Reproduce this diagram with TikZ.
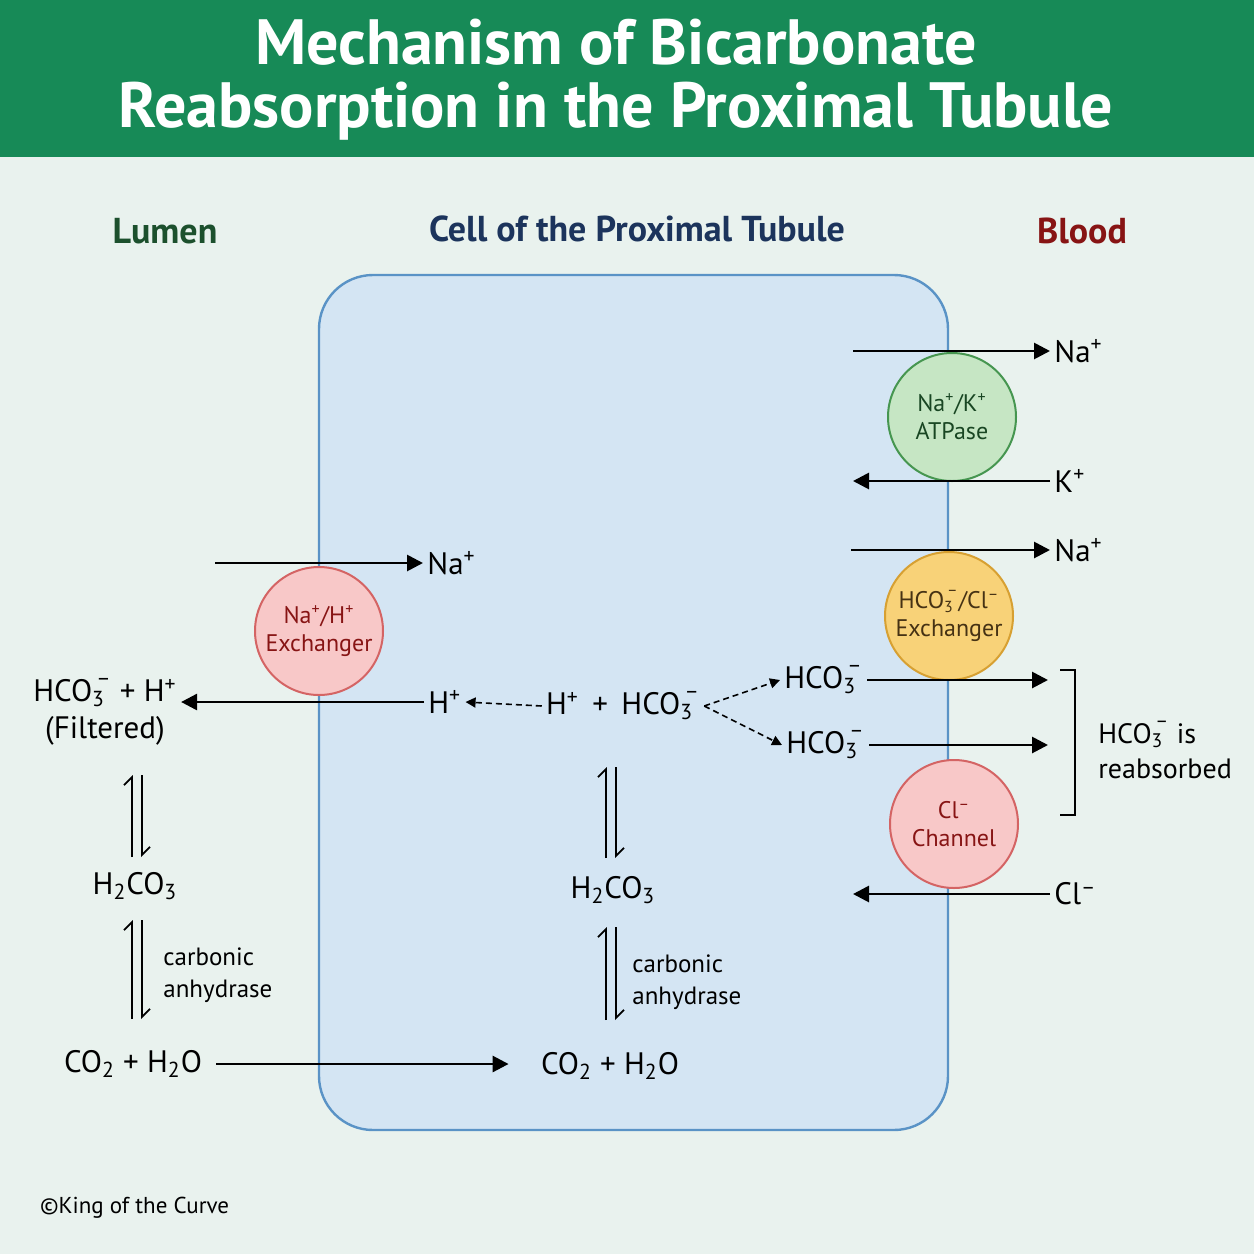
\documentclass[tikz,border=0pt]{standalone}
\usepackage{fontspec}
\setmainfont{PT Sans}
\usepackage{tikz}
\usetikzlibrary{arrows.meta,positioning}
\definecolor{titlegreen}{RGB}{23,138,87}
\definecolor{pagebg}{RGB}{233,242,238}
\definecolor{cellfill}{RGB}{212,229,243}
\definecolor{celledge}{RGB}{90,147,198}
\definecolor{lumengreen}{RGB}{28,80,45}
\definecolor{cellnavy}{RGB}{28,52,92}
\definecolor{bloodred}{RGB}{135,20,20}
\definecolor{pinkfill}{RGB}{248,200,200}
\definecolor{pinkedge}{RGB}{212,100,100}
\definecolor{greenfill}{RGB}{198,230,196}
\definecolor{greenedge}{RGB}{70,150,80}
\definecolor{darkgreen}{RGB}{25,70,35}
\definecolor{goldfill}{RGB}{248,210,120}
\definecolor{goldedge}{RGB}{215,160,50}
\definecolor{darkbrown}{RGB}{70,50,20}
\newcommand{\bicarb}{HCO\textsubscript{3}\kern-0.28em\raisebox{0.35ex}{\textsuperscript{--}}}

\begin{document}
\begin{tikzpicture}[x=0.5pt, y=-0.5pt,
    pore/.style={circle, draw, line width=1pt, minimum size=64pt, inner sep=0pt, align=center, font=\fontsize{12}{14}\selectfont},
    exch/.style={pore, draw=pinkedge, fill=pinkfill, text=bloodred},
    pump/.style={pore, draw=greenedge, fill=greenfill, text=darkgreen},
    anion/.style={pore, draw=goldedge, fill=goldfill, text=darkbrown},
    ion/.style={font=\fontsize{15.5}{18}\selectfont, inner sep=2pt},
    note/.style={font=\fontsize{12.5}{16}\selectfont, align=left, inner sep=0pt},
    side/.style={font=\bfseries\fontsize{18}{22}\selectfont},
    flux/.style={line width=1.4pt, -{Triangle[length=8pt,width=8pt]}},
    dissoc/.style={line width=0.8pt, dash pattern=on 3pt off 2pt, -{Triangle[length=5pt,width=5pt]}},
    harp/.style={line width=0.9pt, -{Straight Barb[left,length=4pt,width=8pt]}}
]
\useasboundingbox (0,0) rectangle (1254,1254);
\fill[pagebg] (0,0) rectangle (1254,1254);

% Title band
\fill[titlegreen] (0,0) rectangle (1254,157);
\node[text=white, align=center, font=\bfseries\fontsize{32}{31.5}\selectfont] (title) at (616,80)
    {Mechanism of Bicarbonate\\Reabsorption in the Proximal Tubule};

% Compartments
\node[side, text=lumengreen] (lumen) at (165,231) {Lumen};
\node[side, text=cellnavy] (cellhead) at (637,229) {Cell of the Proximal Tubule};
\node[side, text=bloodred] (blood) at (1082,231) {Blood};
\draw[celledge, fill=cellfill, line width=1.2pt, rounded corners=27pt] (319,275) rectangle (948,1130);

% Transporters
\node[exch] (nhe) at (319,631) {Na\textsuperscript{+}/H\textsuperscript{+}\\Exchanger};
\node[pump] (atpase) at (952,417) {Na\textsuperscript{+}/K\textsuperscript{+}\\ATPase};
\node[anion] (ae) at (949,616) {\bicarb/Cl\textsuperscript{--}\\Exchanger};
\node[exch] (clch) at (954,824) {Cl\textsuperscript{--}\\Channel};

% Lumen side
\node[ion] (filt) at (105,693) {\bicarb{} + H\textsuperscript{+}};
\node[ion, below=0pt of filt] (filtnote) {(Filtered)};
\node[ion] (lh2co3) at (135,886) {H\textsubscript{2}CO\textsubscript{3}};
\node[ion] (lco2) at (133,1064) {CO\textsubscript{2} + H\textsubscript{2}O};
\node[note, anchor=west] (lca) at (163,975) {carbonic\\anhydrase};

% Cell side
\node[ion, anchor=west] (naL) at (423,563) {Na\textsuperscript{+}};
\node[ion, anchor=west] (hL) at (424,702) {H\textsuperscript{+}};
\node[ion] (cpair) at (623,706) {H\textsuperscript{+} \,+\, \bicarb};
\node[ion, anchor=west] (hcoA) at (780,680) {\bicarb};
\node[ion, anchor=west] (hcoB) at (782,745) {\bicarb};
\node[ion] (ch2co3) at (613,890) {H\textsubscript{2}CO\textsubscript{3}};
\node[ion] (cco2) at (610,1066) {CO\textsubscript{2} + H\textsubscript{2}O};
\node[note, anchor=west] (cca) at (632,982) {carbonic\\anhydrase};

% Blood side
\node[ion, anchor=west] (naB1) at (1050,351) {Na\textsuperscript{+}};
\node[ion, anchor=west] (kB) at (1050,481) {K\textsuperscript{+}};
\node[ion, anchor=west] (naB2) at (1050,550) {Na\textsuperscript{+}};
\node[ion, anchor=west] (clB) at (1050,894) {Cl\textsuperscript{--}};
\node[ion, anchor=west, align=left, font=\fontsize{14}{17.5}\selectfont] (reabs) at (1094,750) {\bicarb{} is\\reabsorbed};

% Free ends
\coordinate (naLs) at (215,563);
\coordinate (naB1s) at (853,351);
\coordinate (kBe) at (853,481);
\coordinate (naB2s) at (851,550);
\coordinate (clBe) at (853,894);
\coordinate (hcoAe) at (1048,680);
\coordinate (hcoBe) at (1048,745);

% Fluxes
\draw[flux] (naLs) -- (naL.west);
\draw[flux] (hL.west) -- (hL.west -| filt.east);
\draw[flux] ([xshift=5pt]lco2.east) -- ([xshift=-14pt]lco2.east -| cco2.west);
\draw[flux] (naB1s) -- (naB1.west);
\draw[flux] (kB.west) -- (kBe);
\draw[flux] (naB2s) -- (naB2.west);
\draw[flux] (clB.west) -- (clBe);
\draw[flux] (hcoA.east) -- (hcoAe);
\draw[flux] (hcoB.east) -- (hcoBe);

% Dissociation
\draw[dissoc] (cpair.west) -- (hL.east);
\draw[dissoc] (cpair.east) -- (hcoA.west);
\draw[dissoc] (cpair.east) -- (hcoB.west);

% Equilibria
\coordinate (leq1t) at (137,775); \coordinate (leq1b) at (137,857);
\coordinate (leq2t) at (137,920); \coordinate (leq2b) at (137,1019);
\coordinate (ceq1t) at (611,767); \coordinate (ceq1b) at (611,858);
\coordinate (ceq2t) at (611,927); \coordinate (ceq2b) at (611,1020);
\foreach \e in {leq1,leq2,ceq1,ceq2} {
    \draw[harp] ([xshift=-2.5pt]\e b) -- ([xshift=-2.5pt]\e t);
    \draw[harp] ([xshift=2.5pt]\e t) -- ([xshift=2.5pt]\e b);
}

% Bracket
\draw[line width=1.3pt] (1060,670) -- (1075,670) -- (1075,815) -- (1060,815);

\node[anchor=west, font=\fontsize{11.5}{14}\selectfont] (credit) at (33,1208) {©King of the Curve};
\end{tikzpicture}
\end{document}
